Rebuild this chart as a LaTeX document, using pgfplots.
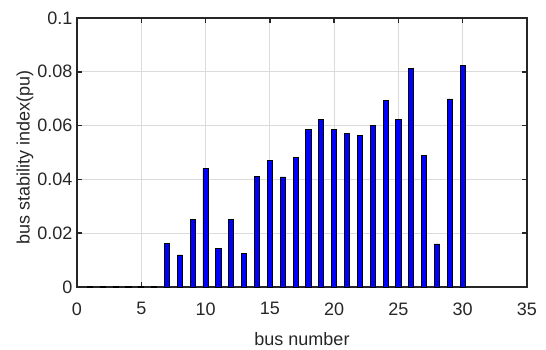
\documentclass[border=0pt]{standalone}
\usepackage{pgfplots}
\pgfplotsset{compat=1.18}
\usepackage{fontspec}
\setmainfont{Liberation Sans}
\pgfplotstableread{
x y
1 0.0002
2 0.0002
3 0.0002
4 0.0002
5 0.0002
6 0.0002
7 0.0161
8 0.0119
9 0.0251
10 0.0440
11 0.0145
12 0.0252
13 0.0124
14 0.0411
15 0.0469
16 0.0409
17 0.0483
18 0.0586
19 0.0623
20 0.0584
21 0.0570
22 0.0565
23 0.0602
24 0.0692
25 0.0623
26 0.0814
27 0.0488
28 0.0160
29 0.0699
30 0.0825
}\datatable
\begin{document}
\begin{tikzpicture}
\begin{axis}[
 scale only axis, width=450pt, height=269pt,
 xmin=0, xmax=35, ymin=0, ymax=0.1,
 xtick={0,5,...,35}, ytick={0,0.02,0.04,0.06,0.08,0.1},
 yticklabels={0,0.02,0.04,0.06,0.08,0.1},
 /pgf/number format/assume math mode=true,
 tick align=inside, major tick length=5pt,
 grid=major, grid style={black!14, line width=1pt},
 axis line style={line width=1.5pt, black!85},
 tick style={line width=1.5pt, black!85},
 ticklabel style={font=\fontsize{18}{21}\selectfont, black!85},
 xticklabel style={yshift=-12pt},
 yticklabel style={xshift=-1pt},
 label style={font=\fontsize{18}{21}\selectfont, black!85},
 xlabel={bus number}, ylabel={bus stability index(pu)},
 xlabel style={at={(axis description cs:0.5,-0.195)}, anchor=center},
 ylabel style={at={(axis description cs:-0.1155,0.48)}, anchor=center},
]
\addplot[ybar, bar width=0.4, fill=blue, draw=black, line width=0.9pt] table[x=x,y=y]{\datatable};
\end{axis}
\pgfresetboundingbox
\path (current axis.south west) ++(-77pt,-62pt) rectangle ++(546pt,349pt);
\end{tikzpicture}
\end{document}
